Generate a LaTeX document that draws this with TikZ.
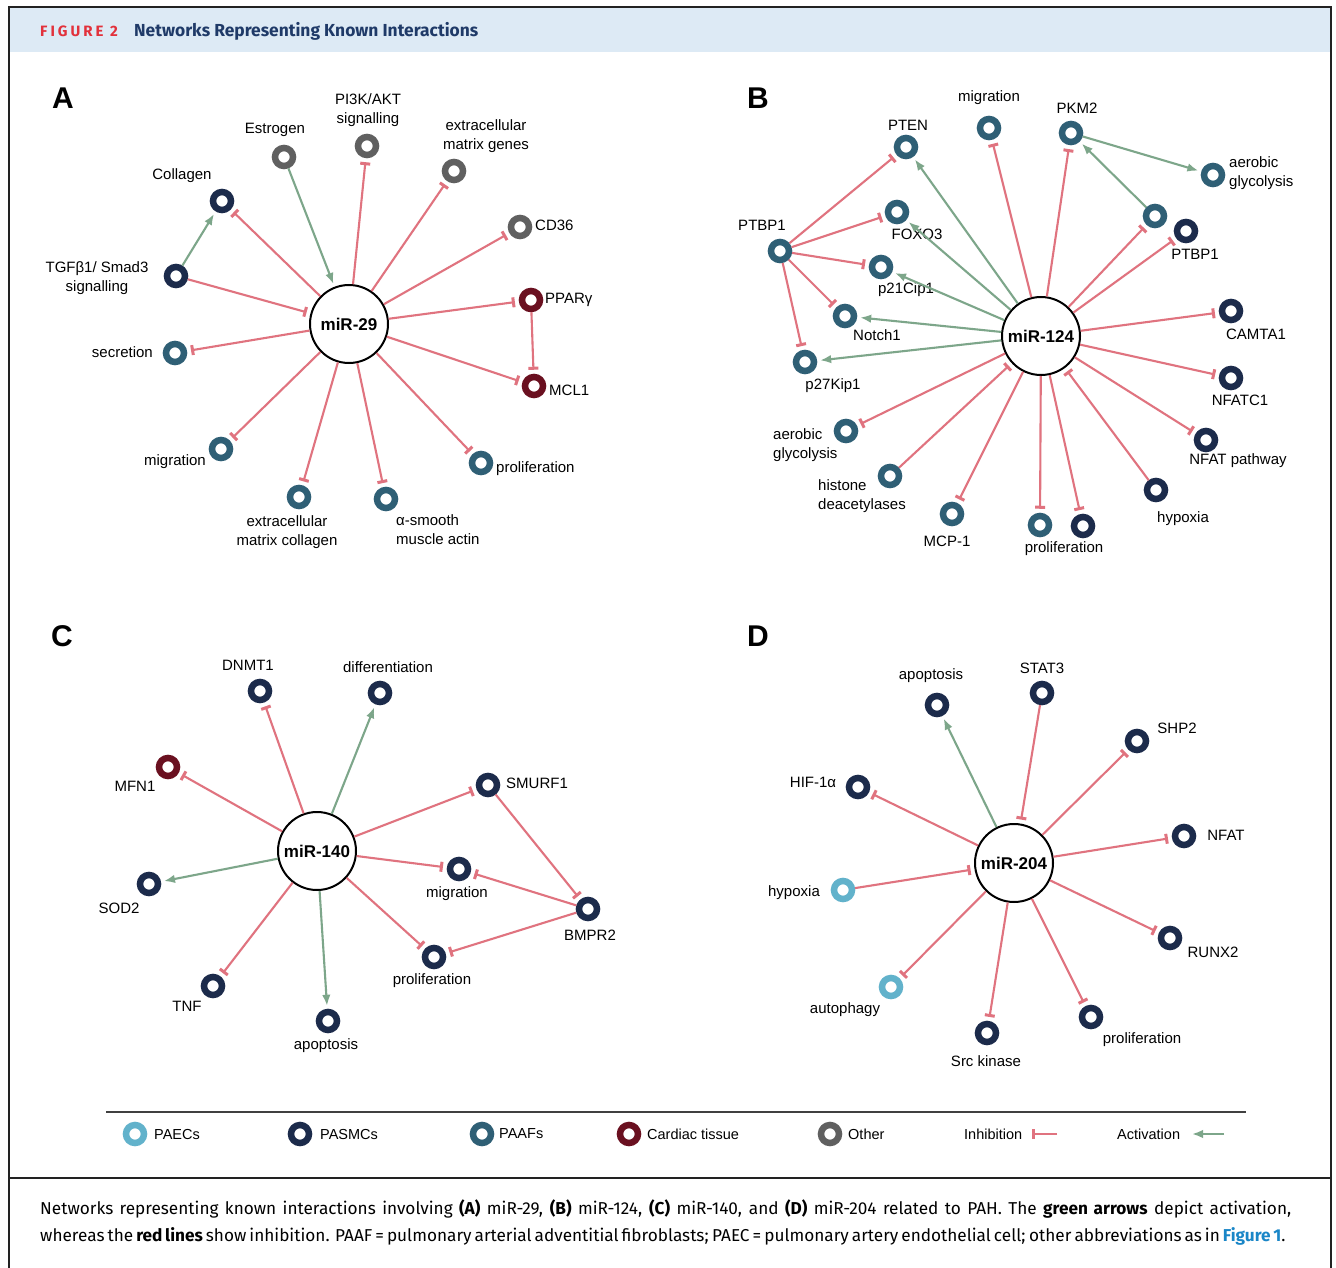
\documentclass[tikz,border=0pt]{standalone}
\usepackage{fontspec}
\setmainfont{Liberation Sans}
\newfontfamily\capfont{Fira Sans}
\newfontfamily\hdrfont{Fira Sans}
\newfontfamily\hdrspaced[LetterSpace=20]{Fira Sans}
\usetikzlibrary{arrows.meta}
\definecolor{paec}{HTML}{62B2CB}
\definecolor{pasmc}{HTML}{1C2B4B}
\definecolor{paaf}{HTML}{2F5F75}
\definecolor{cardiac}{HTML}{6A1020}
\definecolor{othr}{HTML}{606060}
\definecolor{inh}{HTML}{E0737F}
\definecolor{actc}{HTML}{7DA68A}
\definecolor{hdrbg}{HTML}{DDEAF5}
\definecolor{hdrred}{HTML}{E2313B}
\definecolor{hdrnavy}{HTML}{1F3A68}
\definecolor{linkblue}{HTML}{1A86C7}
\definecolor{framec}{HTML}{222222}
\tikzset{
  ring/.style={circle, draw=#1, line width=6.5pt, minimum size=18pt, inner sep=0pt, fill=white},
  hub/.style={circle, draw=black, line width=2pt, minimum size=78pt, inner sep=0pt, fill=white, font=\fontsize{17}{20}\selectfont\bfseries},
  lab/.style={font=\fontsize{15}{19}\selectfont, align=center, inner sep=0pt},
  leglab/.style={font=\fontsize{14.5}{17}\selectfont, inner sep=0pt, anchor=west},
  inhib/.style={draw=inh, line width=2.1pt, -{Rectangle[length=3pt,width=10pt]}, shorten >=4pt},
  activ/.style={draw=actc, line width=2.1pt, -{Latex[length=11pt,width=8.5pt]}, shorten >=3pt},
  panel/.style={font=\fontsize{30}{30}\selectfont\bfseries, inner sep=0pt},
  captxt/.style={font=\capfont\fontsize{17.2}{20}\selectfont, inner sep=0pt, anchor=west},
}
\begin{document}
\begin{tikzpicture}[x=1pt,y=-1pt]
\useasboundingbox (0,0) rectangle (1336,1268);
\fill[white] (0,0) rectangle (1336,1268);
% header and frame
\fill[hdrbg] (9,8) rectangle (1331,52);
\draw[framec, line width=2pt] (9,1268) -- (9,7) -- (1331,7) -- (1331,1268);
\draw[framec, line width=2pt] (9,1178) -- (1331,1178);
\node[anchor=west, inner sep=0pt, text=hdrred, font=\hdrspaced\bfseries\fontsize{15}{17}\selectfont] (figno) at (40,31) {FIGURE 2};
\node[anchor=west, inner sep=0pt, text=hdrnavy, font=\hdrfont\bfseries\fontsize{17.4}{19}\selectfont] (title) at (134,31) {Networks Representing Known Interactions};

% ================= Panel A =================
\node[panel] (pA) at (63,98) {A};
\node[hub] (h29) at (349,324) {miR-29};
\node[ring=othr] (a-est) at (284,157) {};
\node[ring=othr] (a-pi3k) at (367,146) {};
\node[ring=othr] (a-ecmg) at (454,171) {};
\node[ring=othr] (a-cd36) at (520,227) {};
\node[ring=cardiac] (a-ppar) at (531,300) {};
\node[ring=cardiac] (a-mcl1) at (534,386) {};
\node[ring=paaf] (a-prol) at (481,463) {};
\node[ring=paaf] (a-asma) at (386,499) {};
\node[ring=paaf] (a-ecmc) at (299,497) {};
\node[ring=paaf] (a-migr) at (221,449) {};
\node[ring=paaf] (a-secr) at (175,353) {};
\node[ring=pasmc] (a-tgf) at (176,276) {};
\node[ring=pasmc] (a-coll) at (222,201) {};
\node[lab] (al-est) at (275,130) {Estrogen};
\node[lab] (al-pi3k) at (368,110) {PI3K/AKT\\signalling};
\node[lab] (al-ecmg) at (486,136) {extracellular\\matrix genes};
\node[lab, anchor=west] (al-cd36) at (535,225) {CD36};
\node[lab, anchor=west] (al-ppar) at (545,300) {PPARγ};
\node[lab, anchor=west] (al-mcl1) at (549,390) {MCL1};
\node[lab, anchor=west] (al-prol) at (496,469) {proliferation};
\node[lab, anchor=west, align=left] (al-asma) at (396,530) {α-smooth\\muscle actin};
\node[lab] (al-ecmc) at (287,532) {extracellular\\matrix collagen};
\node[lab, anchor=east] (al-migr) at (206,462) {migration};
\node[lab, anchor=east] (al-secr) at (153,352) {secretion};
\node[lab] (al-tgf) at (97,278) {TGFβ1/ Smad3\\signalling};
\node[lab] (al-coll) at (182,176) {Collagen};
\draw[activ] (a-est) -- (h29);
\draw[activ] (a-tgf) -- (a-coll);
\draw[inhib] (a-tgf) -- (h29);
\draw[inhib] (a-ppar) -- (a-mcl1);
\foreach \t in {a-pi3k,a-ecmg,a-cd36,a-ppar,a-mcl1,a-prol,a-asma,a-ecmc,a-migr,a-secr,a-coll}
  \draw[inhib] (h29) -- (\t);

% ================= Panel B =================
\node[panel] (pB) at (758,98) {B};
\node[hub] (h124) at (1041,336) {miR-124};
\node[ring=paaf] (b-pten) at (906,147) {};
\node[ring=paaf] (b-migr) at (989,128) {};
\node[ring=paaf] (b-pkm2) at (1071,133) {};
\node[ring=paaf] (b-aerR) at (1213,175) {};
\node[ring=paaf] (b-ptbT) at (1155,216) {};
\node[ring=pasmc] (b-ptbN) at (1186,231) {};
\node[ring=paaf] (b-foxo) at (897,212) {};
\node[ring=paaf] (b-ptbL) at (780,251) {};
\node[ring=paaf] (b-p21) at (881,267) {};
\node[ring=paaf] (b-notch) at (845,316) {};
\node[ring=paaf] (b-p27) at (805,362) {};
\node[ring=paaf] (b-aerL) at (846,431) {};
\node[ring=paaf] (b-hdac) at (890,476) {};
\node[ring=paaf] (b-mcp) at (952,514) {};
\node[ring=paaf] (b-proT) at (1040,525) {};
\node[ring=pasmc] (b-proN) at (1083,526) {};
\node[ring=pasmc] (b-hyp) at (1156,490) {};
\node[ring=pasmc] (b-nfatp) at (1206,440) {};
\node[ring=pasmc] (b-nfatc) at (1231,378) {};
\node[ring=pasmc] (b-camta) at (1231,311) {};
\node[lab] (bl-migr) at (989,98) {migration};
\node[lab] (bl-pkm2) at (1077,108) {PKM2};
\node[lab] (bl-pten) at (908,125) {PTEN};
\node[lab, anchor=west, align=left] (bl-aerR) at (1229,173) {aerobic\\glycolysis};
\node[lab] (bl-ptbN) at (1195,254) {PTBP1};
\node[lab] (bl-foxo) at (917,234) {FOXO3};
\node[lab] (bl-ptbL) at (762,225) {PTBP1};
\node[lab] (bl-p21) at (906,290) {p21Cip1};
\node[lab] (bl-notch) at (877,335) {Notch1};
\node[lab] (bl-p27) at (833,386) {p27Kip1};
\node[lab] (bl-camta) at (1256,334) {CAMTA1};
\node[lab] (bl-nfatc) at (1240,400) {NFATC1};
\node[lab] (bl-nfatp) at (1238,461) {NFAT pathway};
\node[lab] (bl-hyp) at (1183,519) {hypoxia};
\node[lab] (bl-pro) at (1064,549) {proliferation};
\node[lab] (bl-mcp) at (947,541) {MCP-1};
\node[lab, anchor=west, align=left] (bl-hdac) at (818,496) {histone\\deacetylases};
\node[lab, anchor=west, align=left] (bl-aerL) at (773,445) {aerobic\\glycolysis};
\foreach \t in {b-pten,b-foxo,b-p21,b-notch,b-p27}{
  \draw[inhib] (b-ptbL) -- (\t);
  \draw[activ] (h124) -- (\t);
}
\foreach \t in {b-migr,b-pkm2,b-ptbT,b-ptbN,b-camta,b-nfatc,b-nfatp,b-proT,b-proN,b-mcp,b-aerL}
  \draw[inhib] (h124) -- (\t);
\draw[inhib] (b-hyp) -- (h124);
\draw[inhib] (b-hdac) -- (h124);
\draw[activ] (b-ptbT) -- (b-pkm2);
\draw[activ] (b-pkm2) -- (b-aerR);

% ================= Panel C =================
\node[panel] (pC) at (62,636) {C};
\node[hub] (h140) at (317,851) {miR-140};
\node[ring=pasmc] (c-dnmt) at (260,691) {};
\node[ring=pasmc] (c-diff) at (380,693) {};
\node[ring=cardiac] (c-mfn) at (168,767) {};
\node[ring=pasmc] (c-smurf) at (488,785) {};
\node[ring=pasmc] (c-migr) at (459,869) {};
\node[ring=pasmc] (c-bmpr) at (588,909) {};
\node[ring=pasmc] (c-prol) at (434,957) {};
\node[ring=pasmc] (c-apop) at (328,1021) {};
\node[ring=pasmc] (c-tnf) at (213,986) {};
\node[ring=pasmc] (c-sod) at (149,884) {};
\node[lab] (cl-dnmt) at (248,665) {DNMT1};
\node[lab] (cl-diff) at (388,667) {differentiation};
\node[lab] (cl-mfn) at (135,786) {MFN1};
\node[lab, anchor=west] (cl-smurf) at (506,783) {SMURF1};
\node[lab] (cl-migr) at (457,894) {migration};
\node[lab] (cl-bmpr) at (590,935) {BMPR2};
\node[lab] (cl-prol) at (432,981) {proliferation};
\node[lab] (cl-apop) at (326,1046) {apoptosis};
\node[lab] (cl-tnf) at (187,1006) {TNF};
\node[lab] (cl-sod) at (119,908) {SOD2};
\foreach \t in {c-dnmt,c-mfn,c-smurf,c-migr,c-prol,c-tnf}
  \draw[inhib] (h140) -- (\t);
\foreach \t in {c-diff,c-apop,c-sod}
  \draw[activ] (h140) -- (\t);
\draw[inhib] (c-smurf) -- (c-bmpr);
\draw[inhib] (c-bmpr) -- (c-migr);
\draw[inhib] (c-bmpr) -- (c-prol);

% ================= Panel D =================
\node[panel] (pD) at (758,636) {D};
\node[hub] (h204) at (1014,863) {miR-204};
\node[ring=pasmc] (d-apop) at (937,705) {};
\node[ring=pasmc] (d-stat) at (1042,693) {};
\node[ring=pasmc] (d-shp) at (1137,741) {};
\node[ring=pasmc] (d-hif) at (858,787) {};
\node[ring=pasmc] (d-nfat) at (1184,836) {};
\node[ring=paec] (d-hyp) at (843,890) {};
\node[ring=pasmc] (d-runx) at (1170,938) {};
\node[ring=paec] (d-auto) at (891,987) {};
\node[ring=pasmc] (d-src) at (987,1033) {};
\node[ring=pasmc] (d-prol) at (1091,1017) {};
\node[lab] (dl-apop) at (931,676) {apoptosis};
\node[lab] (dl-stat) at (1042,668) {STAT3};
\node[lab] (dl-shp) at (1177,728) {SHP2};
\node[lab] (dl-hif) at (813,782) {HIF-1α};
\node[lab] (dl-nfat) at (1226,835) {NFAT};
\node[lab] (dl-hyp) at (794,893) {hypoxia};
\node[lab] (dl-runx) at (1213,952) {RUNX2};
\node[lab] (dl-auto) at (845,1010) {autophagy};
\node[lab] (dl-src) at (986,1061) {Src kinase};
\node[lab] (dl-prol) at (1142,1040) {proliferation};
\draw[activ] (h204) -- (d-apop);
\draw[inhib] (d-stat) -- (h204);
\draw[inhib] (d-hyp) -- (h204);
\foreach \t in {d-shp,d-hif,d-nfat,d-runx,d-auto,d-src,d-prol}
  \draw[inhib] (h204) -- (\t);

% ================= Legend =================
\draw[black!75, line width=1.5pt] (106,1112) -- (1246,1112);
\node[ring=paec] (g-paec) at (135,1134) {};
\node[leglab] (gl-paec) at (154,1134) {PAECs};
\node[ring=pasmc] (g-pasmc) at (300,1134) {};
\node[leglab] (gl-pasmc) at (320,1134) {PASMCs};
\node[ring=paaf] (g-paaf) at (482,1134) {};
\node[leglab] (gl-paaf) at (499,1134) {PAAFs};
\node[ring=cardiac] (g-card) at (629,1134) {};
\node[leglab] (gl-card) at (647,1134) {Cardiac tissue};
\node[ring=othr] (g-oth) at (830,1134) {};
\node[leglab] (gl-oth) at (848,1134) {Other};
\node[leglab] (gl-inh) at (964,1134) {Inhibition};
\coordinate (gi-a) at (1057,1134);
\coordinate (gi-b) at (1032,1134);
\draw[inhib, shorten >=0pt] (gi-a) -- (gi-b);
\node[leglab] (gl-act) at (1117,1134) {Activation};
\coordinate (ga-a) at (1224,1134);
\coordinate (ga-b) at (1192,1134);
\draw[activ, shorten >=0pt] (ga-a) -- (ga-b);

% ================= Caption =================
\node[captxt] (cap1) at (40,1209) {\makebox[1251pt][s]{Networks representing known interactions involving \textbf{(A)} miR-29, \textbf{(B)} miR-124, \textbf{(C)} miR-140, and \textbf{(D)} miR-204 related to PAH. The \textbf{green arrows} depict activation,}};
\node[captxt] (cap2) at (40,1236) {\makebox[1243pt][s]{whereas the \textbf{red lines} show inhibition. PAAF = pulmonary arterial adventitial fibroblasts; PAEC = pulmonary artery endothelial cell; other abbreviations as in \textcolor{linkblue}{\textbf{Figure 1}}.}};
\end{tikzpicture}
\end{document}
